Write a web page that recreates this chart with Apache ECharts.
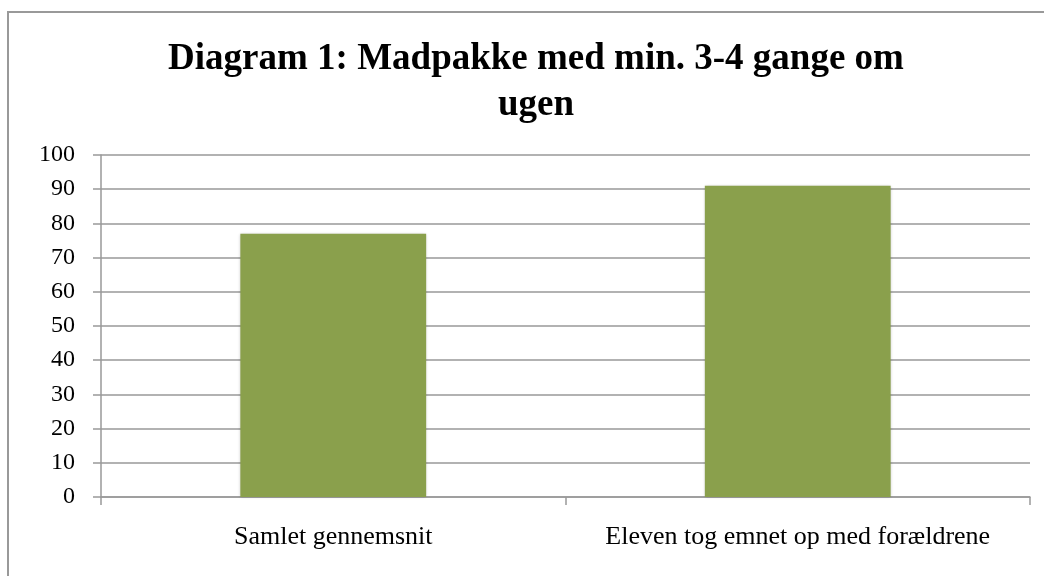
<!DOCTYPE html>
<html>
<head>
<meta charset="utf-8">
<script src="https://cdn.jsdelivr.net/npm/echarts@6/dist/echarts.min.js"></script>
<style>
html,body{margin:0;padding:0;background:#fff;}
#c{width:1044px;height:576px;}
</style>
</head>
<body>
<div id="c"></div>
<script>
const titleText = 'Diagram 1: Madpakke med min. 3-4 gange om\nugen';
const categories = ['Samlet gennemsnit', 'Eleven tog emnet op med forældrene'];
const values = [77, 91];
const yMin = 0, yMax = 100, yInterval = 10;

const chart = echarts.init(document.getElementById('c'), null, {renderer: 'canvas'});
const font = '"Liberation Serif","Times New Roman",serif';
chart.setOption({
  animation: false,
  backgroundColor: '#fff',
  graphic: [{
    type: 'rect',
    shape: {x: 8, y: 12, width: 1100, height: 620},
    style: {fill: 'none', stroke: '#999', lineWidth: 2},
    silent: true
  }],
  title: {
    text: titleText,
    left: 531,
    textAlign: 'center',
    top: 31,
    textStyle: {fontFamily: font, fontSize: 37, fontWeight: 'bold', color: '#000', lineHeight: 46}
  },
  grid: {left: 101, right: 14, top: 155, bottom: 79, containLabel: false},
  xAxis: {
    type: 'category',
    data: categories,
    axisLine: {lineStyle: {color: '#999', width: 1.5}},
    axisTick: {show: true, length: 8, lineStyle: {color: '#999', width: 1.5}},
    axisLabel: {fontFamily: font, fontSize: 26, color: '#000', margin: 27, interval: 0, hideOverlap: false}
  },
  yAxis: {
    type: 'value',
    min: yMin, max: yMax, interval: yInterval,
    axisLine: {show: true, lineStyle: {color: '#999', width: 1.5}},
    axisTick: {show: true, length: 8, lineStyle: {color: '#999', width: 1.5}},
    splitLine: {lineStyle: {color: '#999', width: 1.5}},
    axisLabel: {fontFamily: font, fontSize: 24, color: '#000', margin: 26}
  },
  series: [{
    type: 'bar',
    data: values,
    barCategoryGap: '60%',
    itemStyle: {color: '#8aa04c', shadowBlur: 3, shadowColor: 'rgba(0,0,0,0.25)'}
  }]
});
</script>
</body>
</html>
